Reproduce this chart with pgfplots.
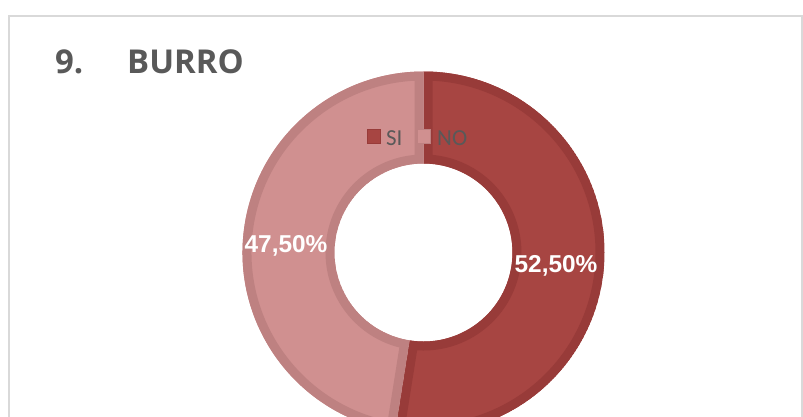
\documentclass[border=0pt]{standalone}
\usepackage{pgfplots}
\pgfplotsset{compat=1.18}
\usepackage{pgfplotstable}
\usepackage{fontspec}
\setmainfont{Carlito}
\newfontfamily\titlefont{Open Sans}
\newfontfamily\labfont{Liberation Sans}
\definecolor{siFill}{HTML}{A74542}
\definecolor{siLine}{HTML}{983B39}
\definecolor{noFill}{HTML}{D09090}
\definecolor{noLine}{HTML}{BE8181}
\definecolor{txt}{HTML}{595959}
\definecolor{frame}{HTML}{D9D9D9}

\pgfplotstableread{
label value
SI 52.5
NO 47.5
}\donut

\newcommand\sector[4]{(#1:#3) arc[start angle=#1, end angle=#2, radius=#3] -- (#2:#4) arc[start angle=#2, end angle=#1, radius=#4] -- cycle}

\begin{document}
\begin{tikzpicture}
\pgfplotstablegetelem{0}{value}\of\donut
\pgfmathsetmacro\aA{90-3.6*\pgfplotsretval}
\pgfplotstablegetelem{1}{value}\of\donut
\pgfmathsetmacro\aB{\aA-3.6*\pgfplotsretval}
\begin{axis}[x=1bp,y=1bp,xmin=0,xmax=803,ymin=0,ymax=417,hide axis,clip=true,
  at={(0,0)},anchor=south west]
\draw[frame, line width=1.5bp] (axis cs:9,-20) -- (axis cs:9,401) -- (axis cs:802,401) -- (axis cs:802,-20);
\begin{scope}[shift={(axis cs:423.5,164.5)}]
 \begin{scope}
  \clip \sector{90}{\aA}{181bp}{89bp};
  \draw[fill=siFill, draw=siLine, line width=18bp] \sector{90}{\aA}{181bp}{89bp};
 \end{scope}
 \begin{scope}
  \clip \sector{\aA}{\aB}{181bp}{89bp};
  \draw[fill=noFill, draw=noLine, line width=18bp] \sector{\aA}{\aB}{181bp}{89bp};
 \end{scope}
\end{scope}
\node[font=\labfont\bfseries\fontsize{24.5}{26}\selectfont, text=white, inner sep=0] at (axis cs:556,151) {52,50\%};
\node[font=\labfont\bfseries\fontsize{24.5}{26}\selectfont, text=white, inner sep=0] at (axis cs:286,171.5) {47,50\%};
\node[anchor=base west, inner sep=0, font=\titlefont\bfseries\fontsize{33}{36}\selectfont, text=txt] at (axis cs:55,344) {9.};
\node[anchor=base west, inner sep=0, font=\titlefont\bfseries\fontsize{33}{36}\selectfont, text=txt] at (axis cs:127,344) {BURRO};
\draw[fill=siFill, draw=siLine, line width=1bp] (axis cs:367.5,273.5) rectangle (axis cs:380.5,287.5);
\draw[fill=noFill, draw=noLine, line width=1bp] (axis cs:417.5,273.5) rectangle (axis cs:430.5,287.5);
\node[anchor=base west, inner sep=0, font=\fontsize{23}{25}\selectfont, text=txt] at (axis cs:386,272) {SI};
\node[anchor=base west, inner sep=0, font=\fontsize{23}{25}\selectfont, text=txt] at (axis cs:437,272) {NO};
\end{axis}
\pgfresetboundingbox
\path (0,0) rectangle (803bp,417bp);
\end{tikzpicture}
\end{document}
